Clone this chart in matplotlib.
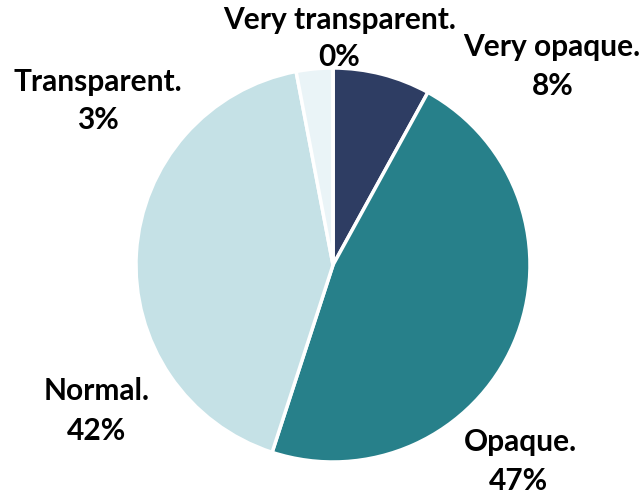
import matplotlib.pyplot as plt

labels = ['Very opaque.', 'Opaque.', 'Normal.', 'Transparent.', 'Very transparent.']
values = [8, 47, 42, 3, 0]
colors = ['#2e3d63', '#27808a', '#c5e1e6', '#eaf4f7', '#ffffff']

# label placement (pixels from top-left of the 643x496 image): name line, percent line
name_pos = [(552, 47), (520, 442), (97, 391), (98, 82), (340, 20)]
pct_pos = [(553, 86), (518, 481), (97, 431), (98, 120), (339, 57)]

W, H = 643, 496
cx, cy, r = 333, 265, 197

fig = plt.figure(figsize=(W / 100, H / 100), dpi=100)
ax = fig.add_axes([(cx - r) / W, (H - cy - r) / H, 2 * r / W, 2 * r / H])

ax.pie(values, colors=colors, startangle=90, counterclock=False, radius=1,
       wedgeprops=dict(edgecolor='white', linewidth=2.5))
ax.set_xlim(-1, 1)
ax.set_ylim(-1, 1)


def to_data(p):
    return (p[0] - cx) / r, (cy - p[1]) / r


font = dict(family='Lato', weight='bold', fontsize=21.5, color='#000000',
            ha='center', va='center')
for name, v, npos, ppos in zip(labels, values, name_pos, pct_pos):
    x, y = to_data(npos)
    ax.text(x, y, name, clip_on=False, **font)
    x, y = to_data(ppos)
    ax.text(x, y, f'{v}%', clip_on=False, **font)

fig.savefig('out.png', dpi=100)
